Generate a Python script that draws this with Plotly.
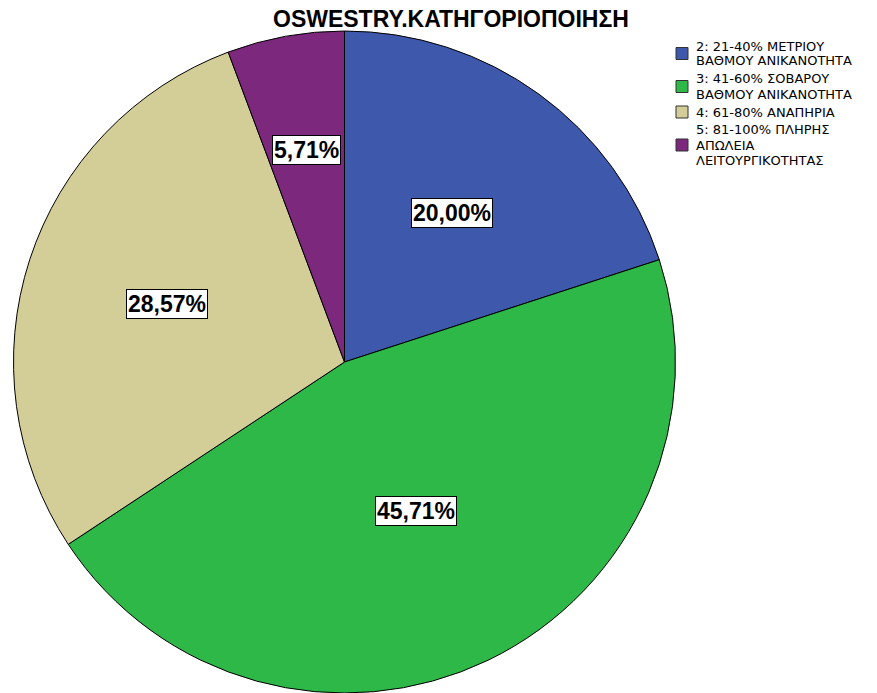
import math
import plotly.graph_objects as go

# Oswestry disability categories and respondent counts (n = 35)
categories = [
    "2: 21-40% ΜΕΤΡΙΟΥ ΒΑΘΜΟΥ ΑΝΙΚΑΝΟΤΗΤΑ",
    "3: 41-60% ΣΟΒΑΡΟΥ ΒΑΘΜΟΥ ΑΝΙΚΑΝΟΤΗΤΑ",
    "4: 61-80% ΑΝΑΠΗΡΙΑ",
    "5: 81-100% ΠΛΗΡΗΣ ΑΠΩΛΕΙΑ ΛΕΙΤΟΥΡΓΙΚΟΤΗΤΑΣ",
]
# wrapped legend text, one list of lines per category
legend_lines = [
    ["2: 21-40% ΜΕΤΡΙΟΥ", "ΒΑΘΜΟΥ ΑΝΙΚΑΝΟΤΗΤΑ"],
    ["3: 41-60% ΣΟΒΑΡΟΥ", "ΒΑΘΜΟΥ ΑΝΙΚΑΝΟΤΗΤΑ"],
    ["4: 61-80% ΑΝΑΠΗΡΙΑ"],
    ["5: 81-100% ΠΛΗΡΗΣ", "ΑΠΩΛΕΙΑ", "ΛΕΙΤΟΥΡΓΙΚΟΤΗΤΑΣ"],
]
counts = [7, 16, 10, 2]
colors = ["#3E58AC", "#2EB848", "#D3CE97", "#7C287D"]

# radial placement of each percentage label (fraction of pie radius)
label_radius = [0.555, 0.50, 0.565, 0.65]

W, H = 877, 693
cx, cy, R = 344.5, 362, 331  # pie centre and radius in pixels


def px_x(x):
    return x / W


def px_y(y):
    return 1 - y / H


fig = go.Figure(go.Pie(
    labels=categories,
    values=counts,
    sort=False,
    direction="clockwise",
    rotation=0,
    marker=dict(colors=colors, line=dict(color="#000000", width=1)),
    textinfo="none",
    hoverinfo="label+percent",
    showlegend=False,
    domain=dict(x=[px_x(cx - R), px_x(cx + R)], y=[px_y(cy + R), px_y(cy - R)]),
))

# percentage labels in white boxes at each slice's mid-angle
total = sum(counts)
start = 0.0
for v, rf in zip(counts, label_radius):
    share = v / total
    mid = (start + share / 2) * 2 * math.pi
    start += share
    lx = cx + rf * R * math.sin(mid)
    ly = cy - rf * R * math.cos(mid)
    fig.add_annotation(
        x=px_x(lx), y=px_y(ly), xref="paper", yref="paper",
        xanchor="center", yanchor="middle",
        text="<b>" + f"{share * 100:.2f}%".replace(".", ",") + "</b>",
        showarrow=False,
        font=dict(family="Liberation Sans, Arial", size=23, color="#000000"),
        bgcolor="#FFFFFF", bordercolor="#000000", borderwidth=1, borderpad=1,
    )

# chart title
fig.add_annotation(
    x=px_x(451), y=px_y(19), xref="paper", yref="paper",
    xanchor="center", yanchor="middle",
    text="<b>OSWESTRY.ΚΑΤΗΓΟΡΙΟΠΟΙΗΣΗ</b>", showarrow=False,
    font=dict(family="Liberation Sans, Arial", size=23, color="#000000"),
)

# legend: colour swatch plus wrapped category text
line_gap = 15
item_gap = 18
item_top = 46
for lines, col in zip(legend_lines, colors):
    n = len(lines)
    centre = item_top + (n - 1) * line_gap / 2
    fig.add_shape(
        type="rect", xref="paper", yref="paper",
        x0=px_x(676), x1=px_x(688), y0=px_y(centre - 6), y1=px_y(centre + 6),
        fillcolor=col, line=dict(color="#333333", width=1),
    )
    for i, t in enumerate(lines):
        fig.add_annotation(
            x=px_x(694), y=px_y(item_top + i * line_gap), xref="paper", yref="paper",
            xanchor="left", yanchor="middle", text=t, showarrow=False,
            font=dict(family="DejaVu Sans", size=13, color="#000000"),
        )
    item_top += (n - 1) * line_gap + item_gap

fig.update_layout(
    width=W, height=H,
    margin=dict(l=0, r=0, t=0, b=0),
    paper_bgcolor="#FFFFFF",
    plot_bgcolor="#FFFFFF",
    showlegend=False,
)

fig.write_html("out.html")
